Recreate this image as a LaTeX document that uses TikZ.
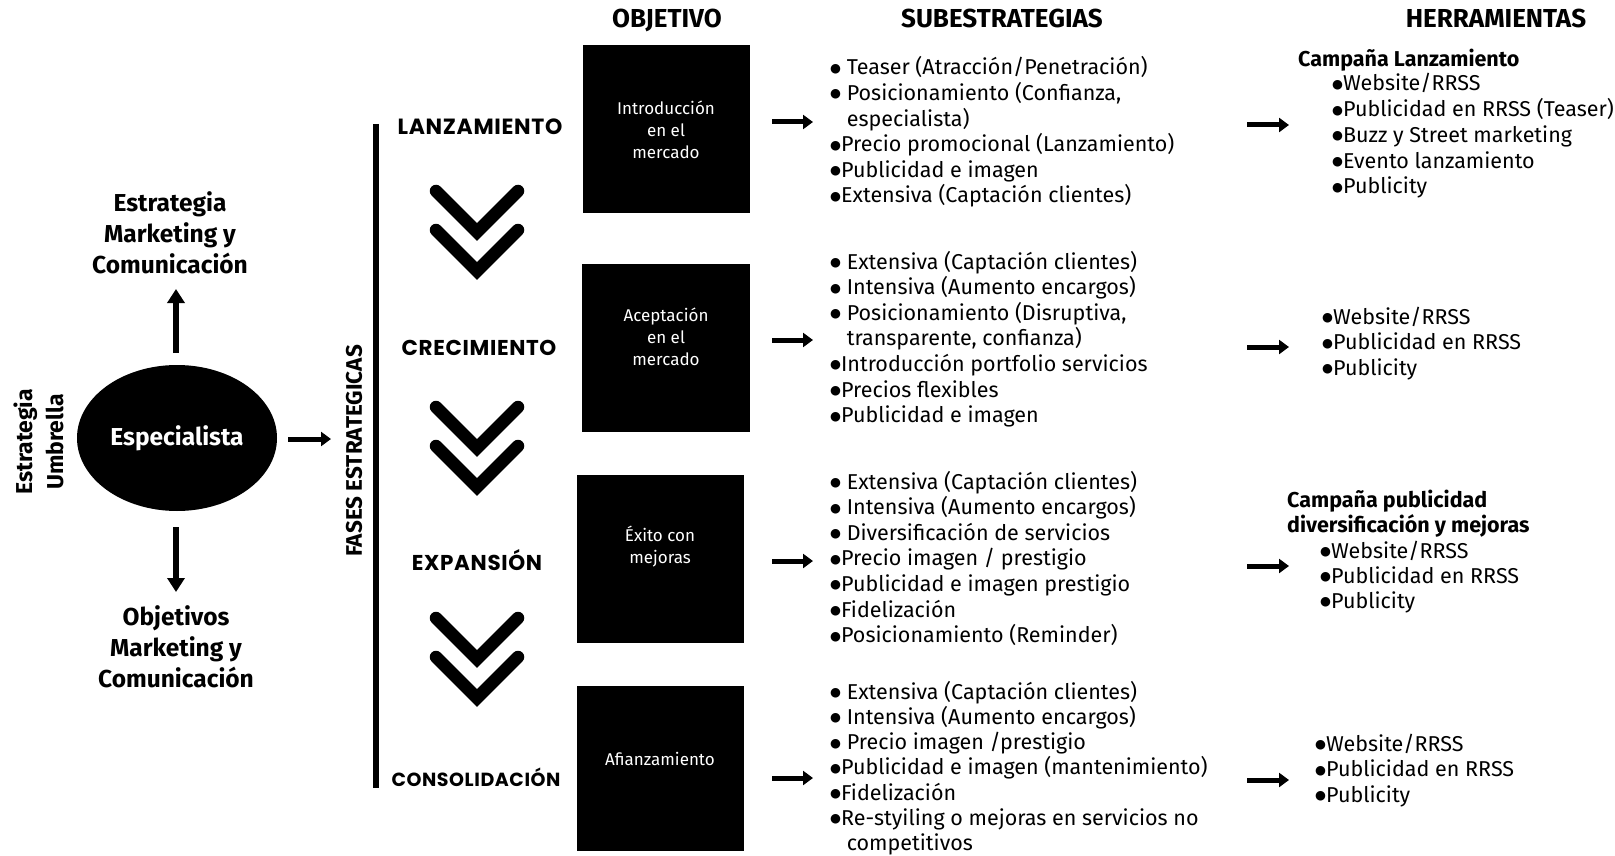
\documentclass[tikz,border=0pt]{standalone}
\usepackage{fontspec}
\setmainfont{Fira Sans}
\newfontfamily\phasefont[LetterSpace=3]{Poppins}
\newfontfamily\symfont{DejaVu Sans}
\usetikzlibrary{arrows.meta,shapes.geometric}
\newcommand{\itemfont}{\fontsize{21.5}{25.6}\selectfont}
\newcommand{\bul}{\raisebox{2.6pt}{\symfont\fontsize{12.5}{12.5}\selectfont ●}}
\begin{document}
\begin{tikzpicture}[x=1pt,y=-1pt,
  itm/.style={anchor=base west, inner sep=0, font=\itemfont},
  itmb/.style={anchor=base west, inner sep=0, font=\bfseries\fontsize{21.5}{25}\selectfont},
  head/.style={anchor=base, inner sep=0, font=\bfseries\fontsize{26}{30}\selectfont},
  phase/.style={anchor=base, inner sep=0},
  blk/.style={fill=black, draw=none, inner sep=0},
  blktxt/.style={text=white, align=center, inner sep=0, font=\fontsize{17}{22}\selectfont},
  boldlab/.style={align=center, inner sep=0, font=\bfseries\fontsize{24.5}{31}\selectfont},
  arr/.style={-{Triangle[length=10pt,width=14pt]}, line width=5pt},
  bigarr/.style={-{Triangle[length=14pt,width=17pt]}, line width=5.5pt},
  chev/.style={line width=12.5pt, line cap=round, miter limit=4},
]
\useasboundingbox (0,0) rectangle (1615,856);

% ---- left part ----
\node[rotate=90, align=center, inner sep=0, font=\bfseries\fontsize{23}{31}\selectfont] (umb) at (39,442) {Estrategia\\Umbrella};
\node[ellipse, fill=black, minimum width=200pt, minimum height=146pt, inner sep=0,
      text=white, font=\bfseries\fontsize{24.5}{28}\selectfont] (esp) at (177,438) {Especialista};
\node[boldlab] (emc) at (170,233) {Estrategia\\Marketing y\\Comunicación};
\node[boldlab] (omc) at (176,647) {Objetivos\\Marketing y\\Comunicación};
\coordinate (upS) at (176,353);
\coordinate (upE) at (176,289);
\coordinate (dnS) at (176,527);
\coordinate (dnE) at (176,592);
\coordinate (rtS) at (288,439);
\coordinate (rtE) at (331,439);
\draw[bigarr] (upS) -- (upE);
\draw[bigarr] (dnS) -- (dnE);
\draw[arr] (rtS) -- (rtE);
\node[rotate=90, inner sep=0, font=\bfseries\fontsize{22.5}{24}\selectfont] (fases) at (354,451) {FASES ESTRATEGICAS};
\coordinate (lineT) at (376,124);
\coordinate (lineB) at (376,788);
\draw[line width=6pt] (lineT) -- (lineB);

% ---- phases ----
\node[phase, font=\phasefont\bfseries\fontsize{22}{24}\selectfont] (p1) at (480,135) {LANZAMIENTO};
\node[phase, font=\phasefont\bfseries\fontsize{21.5}{24}\selectfont] (p2) at (479,355) {CRECIMIENTO};
\node[phase, font=\phasefont\bfseries\fontsize{21.5}{24}\selectfont] (p3) at (477,570) {EXPANSIÓN};
\node[phase, font=\phasefont\bfseries\fontsize{19}{24}\selectfont] (p4) at (476,786) {CONSOLIDACIÓN};
\foreach \dy [count=\k] in {0,216,427} {
  \coordinate (c\k a) at (436,191+\dy);
  \coordinate (c\k b) at (477,232+\dy);
  \coordinate (c\k c) at (518,191+\dy);
  \coordinate (c\k d) at (436,230+\dy);
  \coordinate (c\k e) at (477,271+\dy);
  \coordinate (c\k f) at (518,230+\dy);
  \draw[chev] (c\k a) -- (c\k b) -- (c\k c);
  \draw[chev] (c\k d) -- (c\k e) -- (c\k f);
}

% ---- headings ----
\node[head] (hObj) at (667,28) {OBJETIVO};
\node[head] (hSub) at (1002,28) {SUBESTRATEGIAS};
\node[head] (hHer) at (1496,28) {HERRAMIENTAS};

% ---- objective boxes ----
\node[blk, minimum width=167pt, minimum height=168pt] (b1) at (666.5,129) {};
\node[blk, minimum width=168pt, minimum height=168pt] (b2) at (666,348) {};
\node[blk, minimum width=167pt, minimum height=168pt] (b3) at (660.5,559) {};
\node[blk, minimum width=167pt, minimum height=165pt] (b4) at (660.5,768.5) {};
\node[blktxt] (t1) at (666,130) {Introducción\\en el\\mercado};
\node[blktxt] (t2) at (666,337) {Aceptación\\en el\\mercado};
\node[blktxt] (t3) at (660,547) {Éxito con\\mejoras};
\node[blktxt] (t4) at (660,759) {Afianzamiento};

% ---- arrows box -> list ----
\foreach \yy [count=\k] in {122,340,561,778} {
  \coordinate (aS\k) at (772,\yy);
  \coordinate (aE\k) at (813,\yy);
  \draw[arr] (aS\k) -- (aE\k);
}
% ---- arrows list -> tools ----
\foreach \yy [count=\k] in {125,347,566,780} {
  \coordinate (hS\k) at (1247,\yy);
  \coordinate (hE\k) at (1289,\yy);
  \draw[arr] (hS\k) -- (hE\k);
}

% ---- sub-strategy lists ----
\foreach \t [count=\i from 0] in {{\bul\ Teaser (Atracción/Penetración)},{\bul\ Posicionamiento (Confianza,},{\phantom{\bul\ }especialista)},{\bul Precio promocional (Lanzamiento)},{\bul Publicidad e imagen},{\bul Extensiva (Captación clientes)}}
  \node[itm] (sA-\i) at (830,75+25.6*\i) {\t};
\foreach \t [count=\i from 0] in {{\bul\ Extensiva (Captación clientes)},{\bul\ Intensiva (Aumento encargos)},{\bul\ Posicionamiento (Disruptiva,},{\phantom{\bul\ }transparente, confianza)},{\bul Introducción portfolio servicios},{\bul Precios flexibles},{\bul Publicidad e imagen}}
  \node[itm] (sB-\i) at (830,269+25.6*\i) {\t};
\foreach \t [count=\i from 0] in {{\bul\ Extensiva (Captación clientes)},{\bul\ Intensiva (Aumento encargos)},{\bul\ Diversificación de servicios},{\bul Precio imagen / prestigio},{\bul Publicidad e imagen prestigio},{\bul Fidelización},{\bul Posicionamiento (Reminder)}}
  \node[itm] (sC-\i) at (830,489+25.6*\i) {\t};
\foreach \t [count=\i from 0] in {{\bul\ Extensiva (Captación clientes)},{\bul\ Intensiva (Aumento encargos)},{\bul\ Precio imagen /prestigio},{\bul Publicidad e imagen (mantenimiento)},{\bul Fidelización},{\bul Re-styiling o mejoras en servicios no},{\phantom{\bul\ }competitivos}}
  \node[itm] (sD-\i) at (830,699+25.3*\i) {\t};

% ---- tools ----
\node[itmb] (tA-h) at (1298,67) {Campaña Lanzamiento};
\foreach \t [count=\i from 0] in {{\bul Website/RRSS},{\bul Publicidad en RRSS (Teaser)},{\bul Buzz y Street marketing},{\bul Evento lanzamiento},{\bul Publicity}}
  \node[itm] (tA-\i) at (1332,91+25.7*\i) {\t};
\foreach \t [count=\i from 0] in {{\bul Website/RRSS},{\bul Publicidad en RRSS},{\bul Publicity}}
  \node[itm] (tB-\i) at (1322,324+25.7*\i) {\t};
\node[itmb] (tC-h1) at (1287,507) {Campaña publicidad};
\node[itmb] (tC-h2) at (1287,532) {diversificación y mejoras};
\foreach \t [count=\i from 0] in {{\bul Website/RRSS},{\bul Publicidad en RRSS},{\bul Publicity}}
  \node[itm] (tC-\i) at (1320,558+25.2*\i) {\t};
\foreach \t [count=\i from 0] in {{\bul Website/RRSS},{\bul Publicidad en RRSS},{\bul Publicity}}
  \node[itm] (tD-\i) at (1315,751+25.7*\i) {\t};
\end{tikzpicture}
\end{document}
